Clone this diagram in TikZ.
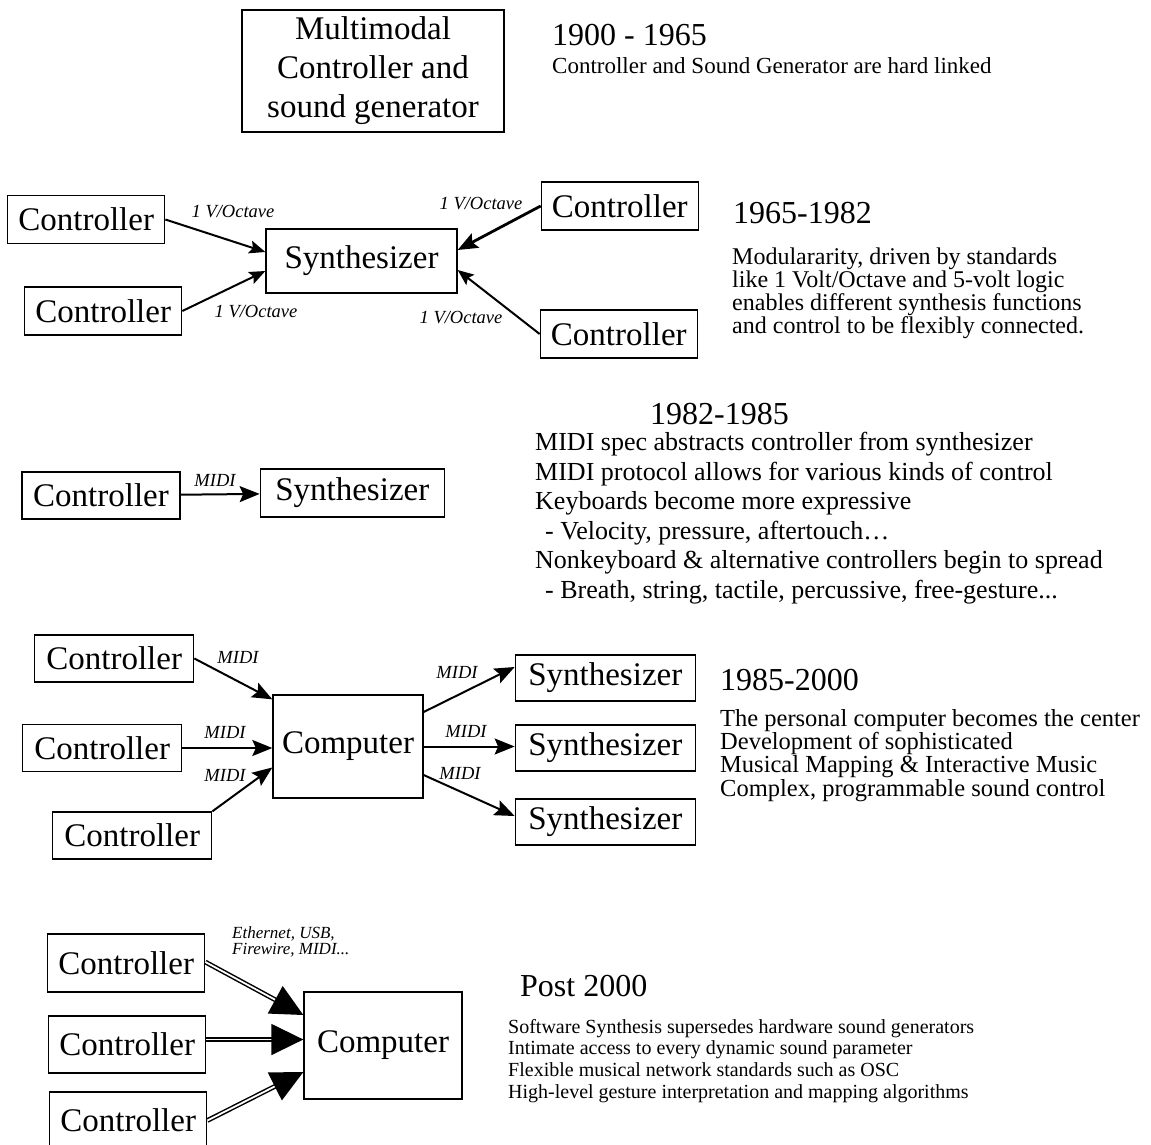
\documentclass[tikz,border=0pt]{standalone}
\usepackage{fontspec}
\setmainfont{Liberation Serif}
\usetikzlibrary{arrows.meta,positioning}

\begin{document}
\begin{tikzpicture}[
  x=1pt, y=-1pt,
  box/.style={rectangle, draw, line width=1.3pt, inner sep=0pt, align=center, font=\fontsize{33}{39}\selectfont},
  ctrl/.style={box, minimum width=157pt, minimum height=48pt},
  era/.style={anchor=base west, inner sep=0pt, font=\fontsize{32}{38}\selectfont},
  note/.style={anchor=north west, inner sep=0pt, align=left},
  lbl/.style={inner sep=0pt, font=\fontsize{18.5}{18.5}\selectfont\itshape},
  link/.style={double, double distance=1.8pt, line width=1.5pt, -{Triangle[length=32pt, width=31pt]}},
  every edge/.style={draw, line width=2pt, -{Stealth[length=20pt, width=16pt, inset=3.5pt]}}
]
\path[fill=white, use as bounding box] (0,0) rectangle (1151,1145);

% Top layer: 1900 - 1965
\node[box, minimum width=262pt, minimum height=122pt] (MULTI) at (373,71) {Multimodal\\Controller and\\sound generator};
\node[era] (ERA1) at (552,46) {1900 - 1965};
\node[era, font=\fontsize{23}{27}\selectfont] (NOTE1) at (552,74) {Controller and Sound Generator are hard linked};

% LEVEL 2: 1965-1982
\node[box, minimum width=191pt, minimum height=64pt] (SYN2) at (361.5,261) {Synthesizer};
\node[ctrl, left=100pt of SYN2, yshift=41.5pt] (CTL2A) {Controller};
\node[ctrl, left=83pt of SYN2, yshift=-50pt] (CTL2B) {Controller};
\node[ctrl, right=83pt of SYN2, yshift=55pt] (CTL2C) {Controller};
\node[ctrl, right=82pt of SYN2, yshift=-73pt] (CTL2D) {Controller};
% Edges: control voltage
\path (CTL2A.east) edge[-{Stealth[length=16pt, width=13pt, inset=3pt]}] ([yshift=9pt]SYN2.west);
\path (CTL2B.east) edge[-{Stealth[length=16pt, width=13pt, inset=3pt]}] ([yshift=-10pt]SYN2.west);
\path (CTL2C.west) edge[line width=2.8pt] ([yshift=11pt]SYN2.east);
\path (CTL2D.west) edge[-{Stealth[length=16pt, width=13pt, inset=3pt]}] ([yshift=-9pt]SYN2.east);
\node[lbl] (CV2A) at (233,212) {1 V/Octave};
\node[lbl] (CV2B) at (256,312) {1 V/Octave};
\node[lbl] (CV2C) at (481,204) {1 V/Octave};
\node[lbl] (CV2D) at (461,318) {1 V/Octave};

\node[era] (ERA2) at (733,223) {1965-1982};
\node[note, font=\fontsize{24}{23}\selectfont] (NOTE2) at (732,247.5) {Modulararity, driven by standards\\like 1 Volt/Octave and 5-volt logic\\enables different synthesis functions\\and control to be flexibly connected.};

% LEVEL 3: 1982-1985
\node[ctrl, minimum width=158pt, minimum height=47pt] (CTL3) at (101,495.5) {Controller};
\node[box, minimum width=184pt, minimum height=48pt, right=79pt of CTL3, yshift=2.5pt] (SYN3) {Synthesizer};
\path (CTL3) edge (SYN3);
\node[lbl] (MIDI3) at (215,480) {MIDI};

\node[era] (ERA3) at (650,424) {1982-1985};
\node[note, font=\fontsize{26}{29.5}\selectfont] (NOTE3) at (535,432) {MIDI spec abstracts controller from synthesizer\\MIDI protocol allows for various kinds of control\\Keyboards become more expressive\\\hspace*{10pt}- Velocity, pressure, aftertouch…\\Nonkeyboard \& alternative controllers begin to spread\\\hspace*{10pt}- Breath, string, tactile, percussive, free-gesture...};

% LEVEL 4: 1985-2000
\node[box, minimum width=150pt, minimum height=103pt] (COMP4) at (348,746.5) {Computer};
\node[ctrl, minimum width=159pt, minimum height=47pt, left=78pt of COMP4, yshift=88pt] (CTL4A) {Controller};
\node[ctrl, minimum width=159pt, minimum height=47pt, left=90pt of COMP4, yshift=-1.5pt] (CTL4B) {Controller};
\node[ctrl, minimum width=159pt, minimum height=47pt, left=60pt of COMP4, yshift=-89pt] (CTL4C) {Controller};
\node[box, minimum width=180pt, minimum height=46pt, right=91pt of COMP4, yshift=68.5pt] (SYN4A) {Synthesizer};
\node[box, minimum width=180pt, minimum height=46pt, right=91pt of COMP4, yshift=-1.5pt] (SYN4B) {Synthesizer};
\node[box, minimum width=180pt, minimum height=46pt, right=91pt of COMP4, yshift=-75.5pt] (SYN4C) {Synthesizer};
% Edges: MIDI in and out
\path (CTL4A.east) edge ([yshift=-5pt]COMP4.north west);
\path (CTL4B) edge (CTL4B -| COMP4.west);
\path (CTL4C.north east) edge ([yshift=-21pt]COMP4.west);
\path ([yshift=34.5pt]COMP4.east) edge ([yshift=11pt]SYN4A.west);
\path (COMP4) edge (COMP4 -| SYN4B.west);
\path ([yshift=-28.5pt]COMP4.east) edge ([yshift=6pt]SYN4C.west);
\node[lbl] (MIDI4A) at (238,657) {MIDI};
\node[lbl] (MIDI4B) at (225,732) {MIDI};
\node[lbl] (MIDI4C) at (225,775) {MIDI};
\node[lbl] (MIDI4D) at (457,672) {MIDI};
\node[lbl] (MIDI4E) at (466,731) {MIDI};
\node[lbl] (MIDI4F) at (460,773) {MIDI};

\node[era] (ERA4) at (720,690) {1985-2000};
\node[note, font=\fontsize{24.5}{23.3}\selectfont] (NOTE4) at (720,709) {The personal computer becomes the center\\Development of sophisticated\\Musical Mapping \& Interactive Music\\Complex, programmable sound control};

% LEVEL 5: Post 2000
\node[box, minimum width=158pt, minimum height=107pt] (COMP5) at (383,1045.5) {Computer};
\node[ctrl, minimum height=58pt, left=98pt of COMP5, yshift=82.5pt] (CTL5A) {Controller};
\node[ctrl, minimum height=57pt, left=97pt of COMP5, yshift=1pt] (CTL5B) {Controller};
\node[ctrl, minimum height=57pt, left=96pt of COMP5, yshift=-75pt] (CTL5C) {Controller};
% Edges: network links
\path ([yshift=1pt]CTL5A.east) edge[link] ([yshift=30.5pt]COMP5.west);
\path ([yshift=5pt]CTL5B.east) edge[link] ([yshift=6pt]COMP5.west);
\path (CTL5C.east) edge[link] ([yshift=-26.5pt]COMP5.west);
\node[lbl, anchor=north west, align=left, font=\fontsize{17}{16}\selectfont\itshape] (BUS5) at (232,926.5) {Ethernet, USB,\\Firewire, MIDI...};

\node[era] (ERA5) at (520,996) {Post 2000};
\node[note, font=\fontsize{20}{21.7}\selectfont] (NOTE5) at (508,1019) {Software Synthesis supersedes hardware sound generators\\Intimate access to every dynamic sound parameter\\Flexible musical network standards such as OSC\\High-level gesture interpretation and mapping algorithms};

\end{tikzpicture}
\end{document}
